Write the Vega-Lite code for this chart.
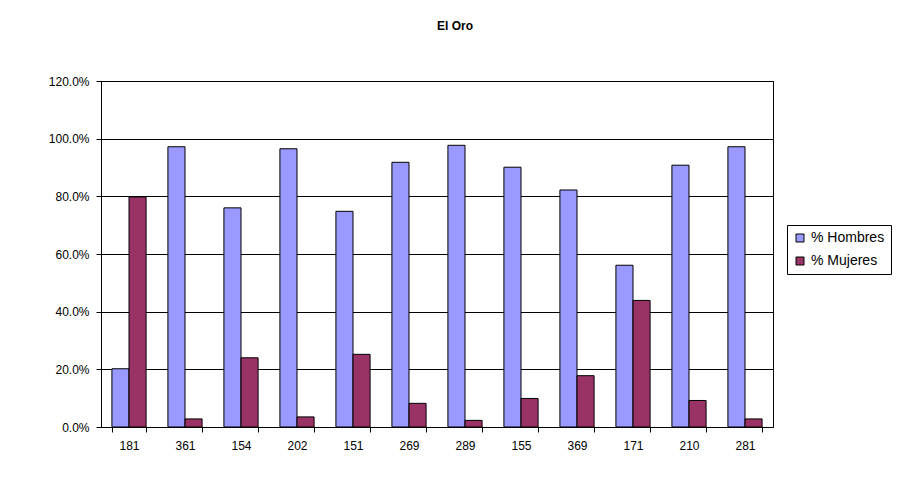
{
  "$schema": "https://vega.github.io/schema/vega-lite/v6.json",
  "autosize": {"type": "none"},
  "padding": {"left": 101, "top": 81, "right": 139, "bottom": 53},
  "width": 672,
  "height": 346,
  "background": "white",
  "title": {"text": "El Oro", "font": "Liberation Sans", "fontSize": 12, "fontWeight": "bold", "color": "black", "offset": 42, "dx": 18, "anchor": "middle"},
  "data": {
    "values": [
      {"code": "181", "serie": "% Hombres", "value": 0.202},
      {"code": "181", "serie": "% Mujeres", "value": 0.798},
      {"code": "361", "serie": "% Hombres", "value": 0.972},
      {"code": "361", "serie": "% Mujeres", "value": 0.028},
      {"code": "154", "serie": "% Hombres", "value": 0.760},
      {"code": "154", "serie": "% Mujeres", "value": 0.240},
      {"code": "202", "serie": "% Hombres", "value": 0.965},
      {"code": "202", "serie": "% Mujeres", "value": 0.035},
      {"code": "151", "serie": "% Hombres", "value": 0.748},
      {"code": "151", "serie": "% Mujeres", "value": 0.252},
      {"code": "269", "serie": "% Hombres", "value": 0.918},
      {"code": "269", "serie": "% Mujeres", "value": 0.082},
      {"code": "289", "serie": "% Hombres", "value": 0.977},
      {"code": "289", "serie": "% Mujeres", "value": 0.023},
      {"code": "155", "serie": "% Hombres", "value": 0.901},
      {"code": "155", "serie": "% Mujeres", "value": 0.099},
      {"code": "369", "serie": "% Hombres", "value": 0.822},
      {"code": "369", "serie": "% Mujeres", "value": 0.178},
      {"code": "171", "serie": "% Hombres", "value": 0.561},
      {"code": "171", "serie": "% Mujeres", "value": 0.439},
      {"code": "210", "serie": "% Hombres", "value": 0.908},
      {"code": "210", "serie": "% Mujeres", "value": 0.092},
      {"code": "281", "serie": "% Hombres", "value": 0.972},
      {"code": "281", "serie": "% Mujeres", "value": 0.028}
    ]
  },
  "mark": {"type": "bar", "stroke": "black", "strokeWidth": 1},
  "encoding": {
    "x": {
      "field": "code", "type": "nominal", "sort": null, "title": null,
      "scale": {"paddingInner": 0.39, "paddingOuter": 0.195},
      "axis": {"labelAngle": 0, "tickBand": "extent", "tickSize": 5, "tickColor": "black", "domainColor": "black", "labelPadding": 8, "labelFont": "Liberation Sans", "labelFontSize": 12, "labelColor": "black", "grid": false}
    },
    "xOffset": {"field": "serie", "type": "nominal", "scale": {"paddingInner": 0, "paddingOuter": 0}},
    "y": {
      "field": "value", "type": "quantitative", "title": null,
      "scale": {"domain": [0, 1.2], "nice": false},
      "axis": {"values": [0, 0.2, 0.4, 0.6, 0.8, 1.0, 1.2], "format": ".1%", "tickSize": 5, "tickColor": "black", "domainColor": "black", "gridColor": "black", "gridOpacity": 1, "labelPadding": 7, "labelFont": "Liberation Sans", "labelFontSize": 12, "labelColor": "black"}
    },
    "color": {
      "field": "serie", "type": "nominal",
      "scale": {"domain": ["% Hombres", "% Mujeres"], "range": ["#9999FF", "#993366"]},
      "legend": {"title": null, "orient": "none", "legendX": 686, "legendY": 144, "strokeColor": "black", "padding": 6, "symbolType": "square", "symbolSize": 64, "symbolStrokeColor": "black", "symbolStrokeWidth": 1, "labelFont": "Liberation Sans", "labelFontSize": 14, "labelColor": "black", "rowPadding": 9, "symbolOpacity": 1}
    }
  },
  "config": {
    "view": {"stroke": "black", "strokeWidth": 1}
  }
}
